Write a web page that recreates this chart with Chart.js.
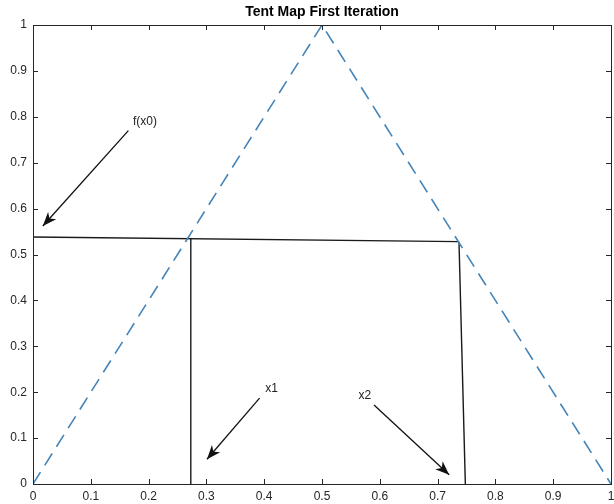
<!DOCTYPE html>
<html>
<head>
<meta charset="utf-8">
<script src="https://cdn.jsdelivr.net/npm/chart.js@4/dist/chart.umd.min.js"></script>
<style>
  html, body { margin: 0; padding: 0; background: #fff; }
  #wrap { width: 614px; height: 504px; }
</style>
</head>
<body>
<div id="wrap"><canvas id="chart" width="614" height="504"></canvas></div>
<script>
const titleText = 'Tent Map First Iteration';
const xTickLabels = ['0', '0.1', '0.2', '0.3', '0.4', '0.5', '0.6', '0.7', '0.8', '0.9', '1'];
const yTickLabels = ['0', '0.1', '0.2', '0.3', '0.4', '0.5', '0.6', '0.7', '0.8', '0.9', '1'];

// tent map f(x)
const tentX = [0, 0.5, 1];
const tentY = [0, 1, 0];

// cobweb lines
const levelX = [0, 0.737];
const levelY = [0.538, 0.528];
const drop1X = [0.273, 0.273];
const drop1Y = [0.534, 0];
const drop2X = [0.737, 0.748];
const drop2Y = [0.528, 0];

// arrows: start -> end
const arrowF0X = [0.165, 0.017];
const arrowF0Y = [0.770, 0.562];
const arrowX1X = [0.392, 0.301];
const arrowX1Y = [0.187, 0.054];
const arrowX2X = [0.590, 0.720];
const arrowX2Y = [0.172, 0.020];

// annotation labels
const noteText = ['f(x0)', 'x1', 'x2'];
const noteX = [0.173, 0.402, 0.563];
const noteY = [0.789, 0.207, 0.192];

const axisColor = '#262626';
const font = "'Liberation Sans', Arial, Helvetica, sans-serif";

function pts(xs, ys){ return xs.map((x,i)=>({x, y: ys[i]})); }

function lineSet(xs, ys, color, width, extra){
  return Object.assign({
    data: pts(xs, ys), borderColor: color, borderWidth: width,
    pointRadius: 0, fill: false, tension: 0, showLine: true
  }, extra || {});
}

const frame = {
  id: 'frame',
  beforeDraw(c){
    const {ctx} = c;
    ctx.save();
    ctx.fillStyle = '#fff';
    ctx.fillRect(0, 0, c.width, c.height);
    ctx.restore();
  },
  afterDraw(c){
    const {ctx, chartArea: a, scales} = c;
    ctx.save();
    ctx.strokeStyle = axisColor;
    ctx.lineWidth = 1;
    ctx.strokeRect(Math.round(a.left)+0.5, Math.round(a.top)+0.5, Math.round(a.right-a.left), Math.round(a.bottom-a.top));
    const tl = 5;
    ctx.beginPath();
    scales.x.ticks.forEach(t=>{
      const px = Math.round(scales.x.getPixelForValue(t.value))+0.5;
      ctx.moveTo(px, a.bottom); ctx.lineTo(px, a.bottom - tl);
      ctx.moveTo(px, a.top); ctx.lineTo(px, a.top + tl);
    });
    scales.y.ticks.forEach(t=>{
      const py = Math.round(scales.y.getPixelForValue(t.value))+0.5;
      ctx.moveTo(a.left, py); ctx.lineTo(a.left + tl, py);
      ctx.moveTo(a.right, py); ctx.lineTo(a.right - tl, py);
    });
    ctx.stroke();

    // arrowheads
    c.data.datasets.forEach((ds, i)=>{
      if (!ds.arrow) return;
      const m = c.getDatasetMeta(i).data;
      const p0 = m[m.length-2], p1 = m[m.length-1];
      const ang = Math.atan2(p1.y-p0.y, p1.x-p0.x);
      const L = 14, W = 5.5, back = 10;
      ctx.save();
      ctx.translate(p1.x, p1.y);
      ctx.rotate(ang);
      ctx.fillStyle = '#111';
      ctx.beginPath();
      ctx.moveTo(0, 0);
      ctx.lineTo(-L, W);
      ctx.lineTo(-back, 0);
      ctx.lineTo(-L, -W);
      ctx.closePath();
      ctx.fill();
      ctx.restore();
    });

    // annotation text
    ctx.fillStyle = '#222';
    ctx.font = '12px ' + font;
    ctx.textBaseline = 'middle';
    ctx.textAlign = 'left';
    noteText.forEach((s,i)=>{
      ctx.fillText(s, scales.x.getPixelForValue(noteX[i]), scales.y.getPixelForValue(noteY[i]));
    });

    // title
    ctx.fillStyle = '#000';
    ctx.font = 'bold 14px ' + font;
    ctx.textAlign = 'center';
    ctx.textBaseline = 'middle';
    ctx.fillText(titleText, (a.left + a.right)/2, 12);
    ctx.restore();
  }
};

new Chart(document.getElementById('chart'), {
  type: 'scatter',
  data: {
    datasets: [
      lineSet(tentX, tentY, '#4584b8', 1.6, {borderDash: [14, 8]}),
      lineSet(levelX, levelY, '#1a1a1a', 1.4),
      lineSet(drop1X, drop1Y, '#1a1a1a', 1.4),
      lineSet(drop2X, drop2Y, '#1a1a1a', 1.4),
      lineSet(arrowF0X, arrowF0Y, '#111', 1.3, {arrow: true}),
      lineSet(arrowX1X, arrowX1Y, '#111', 1.3, {arrow: true}),
      lineSet(arrowX2X, arrowX2Y, '#111', 1.3, {arrow: true})
    ]
  },
  options: {
    responsive: false,
    animation: false,
    layout: { padding: { top: 25, right: 3, left: 0, bottom: 0 } },
    plugins: { legend: { display: false }, tooltip: { enabled: false }, title: { display: false } },
    scales: {
      x: {
        type: 'linear', min: 0, max: 1,
        afterFit(s){ s.height = 20; s.paddingLeft = 0; s.paddingRight = 0; },
        grid: { display: false, drawTicks: false },
        border: { display: false },
        ticks: {
          stepSize: 0.1, padding: 5, color: axisColor, maxRotation: 0, autoSkip: false,
          font: { family: font, size: 12 },
          callback: (v, i) => xTickLabels[i]
        }
      },
      y: {
        type: 'linear', min: 0, max: 1,
        afterFit(s){ s.width = 33; s.paddingTop = 0; s.paddingBottom = 0; },
        grid: { display: false, drawTicks: false },
        border: { display: false },
        ticks: {
          stepSize: 0.1, padding: 6, color: axisColor, autoSkip: false,
          font: { family: font, size: 12 },
          callback: (v, i) => yTickLabels[i]
        }
      }
    }
  },
  plugins: [frame]
});
</script>
</body>
</html>
